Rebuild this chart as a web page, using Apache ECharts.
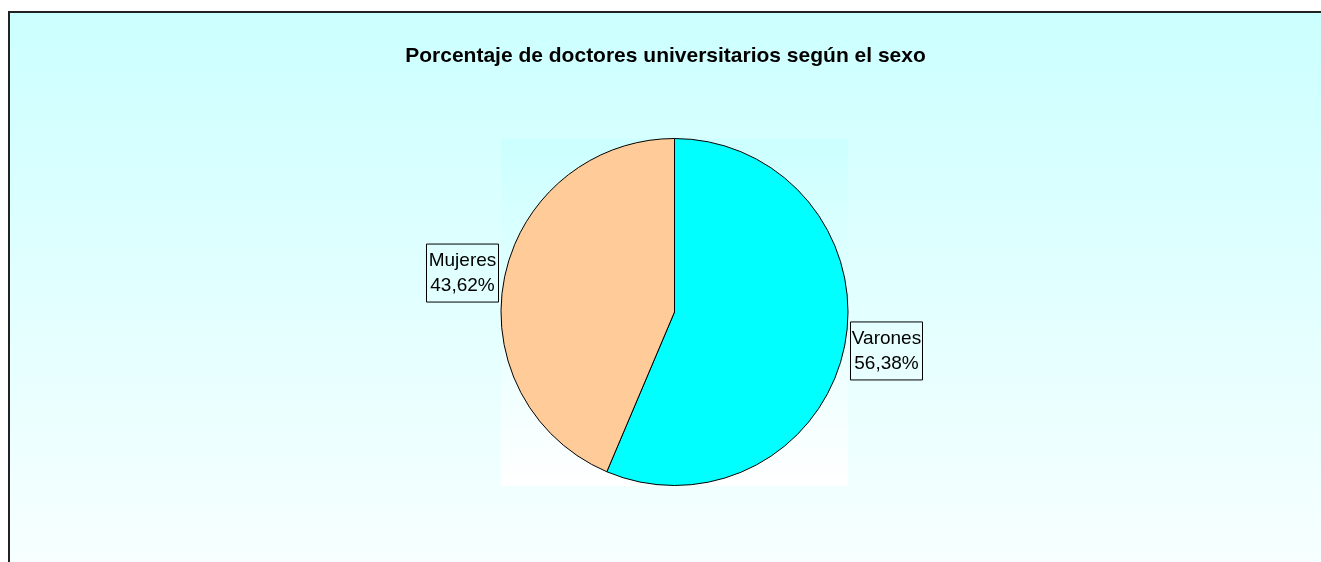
<!DOCTYPE html>
<html>
<head>
<meta charset="utf-8">
<script src="https://cdn.jsdelivr.net/npm/echarts@6/dist/echarts.min.js"></script>
<style>
  html, body { margin: 0; padding: 0; background: #fff; width: 1321px; height: 562px; overflow: hidden; }
  #frame { position: absolute; left: 8px; top: 11px; width: 1313px; height: 551px;
           border-left: 2px solid #222; border-top: 2px solid #222; }
  #chart { width: 1311px; height: 549px; }
</style>
</head>
<body>
<div id="frame"><div id="chart"></div></div>
<script>
// datos del gráfico
var categorias = ['Varones', 'Mujeres'];
var porcentajes = [56.38, 43.62];
var colores = ['#00ffff', '#ffcc99'];

var chart = echarts.init(document.getElementById('chart'));

// pequeño ajuste de la posición de las etiquetas
var desplazamientos = [[-1, 4], [1, -4]];

var datos = [];
for (var i = 0; i < categorias.length; i++) {
  datos.push({
    name: categorias[i],
    value: porcentajes[i],
    itemStyle: { color: colores[i] },
    label: { offset: desplazamientos[i] }
  });
}

chart.setOption({
  animation: false,
  backgroundColor: new echarts.graphic.LinearGradient(0, 0, 0, 1, [
    { offset: 0, color: '#ccffff' },
    { offset: 1, color: '#f7ffff' }
  ]),
  title: {
    text: 'Porcentaje de doctores universitarios según el sexo',
    left: 'center',
    top: 28,
    textStyle: { fontFamily: 'Liberation Sans, Arial', fontSize: 21, fontWeight: 'bold', color: '#000' }
  },
  // fondo del área de trazado
  graphic: [{
    type: 'rect',
    z: -1,
    shape: { x: 491, y: 126, width: 347, height: 347 },
    style: {
      fill: new echarts.graphic.LinearGradient(0, 0, 0, 1, [
        { offset: 0, color: '#ccffff' },
        { offset: 1, color: '#ffffff' }
      ])
    }
  }],
  series: [{
    type: 'pie',
    center: [664.5, 299],
    radius: 173.5,
    startAngle: 90,
    clockwise: true,
    avoidLabelOverlap: false,
    data: datos,
    itemStyle: { borderColor: '#000', borderWidth: 1 },
    emphasis: { disabled: true },
    label: {
      show: true,
      position: 'outside',
      formatter: function (p) {
        return '{t|' + p.name + '}\n{t|' + p.value.toFixed(2).replace('.', ',') + '%}';
      },
      rich: {
        t: {
          fontFamily: 'Liberation Sans, Arial',
          fontSize: 19,
          lineHeight: 25,
          color: '#000',
          width: 66,
          align: 'center'
        }
      },
      borderColor: '#000',
      borderWidth: 1,
      padding: [4, 3, 4, 3]
    },
    labelLine: { show: false, length: 2, length2: 0 }
  }]
});
</script>
</body>
</html>
